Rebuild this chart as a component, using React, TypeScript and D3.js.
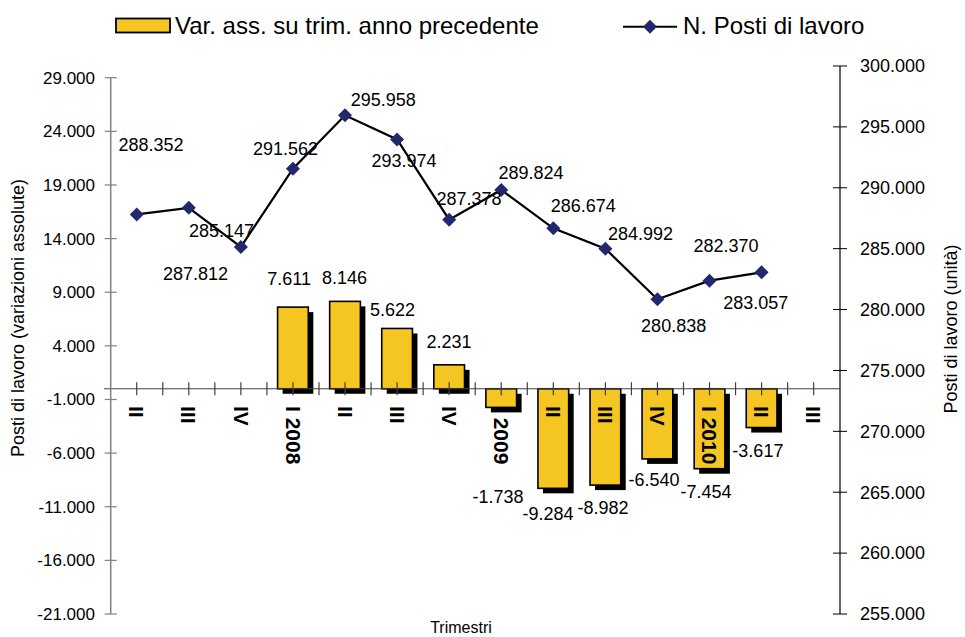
import React from "react";
import * as d3 from "d3";

const categories = ["II", "III", "IV", "I 2008", "II", "III", "IV", "I 2009", "II", "III", "IV", "I 2010", "II", "III"];
const barValues: (number | null)[] = [null, null, null, 7611, 8146, 5622, 2231, -1738, -9284, -8982, -6540, -7454, -3617, null];
const lineValues = [287812, 288352, 285147, 291562, 295958, 293974, 287378, 289824, 286674, 284992, 280838, 282370, 283057];
const leftTicks = [-21000, -16000, -11000, -6000, -1000, 4000, 9000, 14000, 19000, 24000, 29000];
const rightTicks = [255000, 260000, 265000, 270000, 275000, 280000, 285000, 290000, 295000, 300000];

const legendBar = "Var. ass. su trim. anno precedente";
const legendLine = "N. Posti di lavoro";
const leftTitle = "Posti di lavoro  (variazioni assolute)";
const rightTitle = "Posti di lavoro (unità)";
const xTitle = "Trimestri";

// label placement offsets (layout only)
const lineLabelOffsets: [number, number][] = [
  [58.8, 58.9], [-37.8, -63.5], [-19.4, -15.8], [-7.4, -20], [38.3, -15.2], [7, 21.6], [19.8, -21.4],
  [29.8, -17.2], [30, -22.3], [35.1, -15.5], [16.2, 26.3], [16.4, -34.7], [-5.9, 30.4],
];
const barLabelOffsets: [number, number][] = [
  [0, 0], [0, 0], [0, 0], [-3.9, -28], [-0.5, -23.3], [-4.5, -18.4], [-0.2, -23.1],
  [-3.2, 89.4], [-5.3, 25.7], [-2.4, 22.9], [-3.5, 21.1], [-3.6, 23], [-3.7, 23.5], [0, 0],
];

const locale = d3.formatLocale({ decimal: ",", thousands: ".", grouping: [3], currency: ["€", ""], minus: "-" });
const fmt = locale.format(",d");

const FONT = "'Liberation Sans', Arial, sans-serif";
const BAR_FILL = "#F5C521";
const MARKER = "#22286E";

export default function App() {
  const x0 = 110.7, x1 = 839.7;
  const x = d3.scaleBand<number>().domain(categories.map((_, i) => i)).range([x0, x1]).padding(0);
  const yL = d3.scaleLinear().domain([-21000, 29000]).range([614, 77.7]);
  const yR = d3.scaleLinear().domain([255000, 300000]).range([614, 66]);
  const bw = x.bandwidth();
  const barW = bw * 0.59;
  const cx = (i: number) => (x(i) as number) + bw / 2;
  const zeroY = yL(0);
  const sh = 5;

  const linePath = d3.line<number>().x((_, i) => cx(i)).y((d) => yR(d))(lineValues) || "";
  const diamond = (px: number, py: number, r: number) => `M${px},${py - r}L${px + r},${py}L${px},${py + r}L${px - r},${py}Z`;

  const xTicks: number[] = [];
  for (let i = 0; i < categories.length; i++) {
    xTicks.push(cx(i));
    if (i > 0) xTicks.push(x(i) as number);
  }

  return (
    <svg width={965} height={637} style={{ position: "absolute", left: 0, top: 0, background: "#fff" }} fontFamily={FONT}>
      {/* Legend */}
      <rect x={116} y={18.5} width={54} height={14} fill={BAR_FILL} stroke="#000" strokeWidth={1.8} />
      <text x={175} y={34} fontSize={24} fill="#000">{legendBar}</text>
      <line x1={623} x2={677} y1={26.7} y2={26.7} stroke="#000" strokeWidth={2} />
      <path d={diamond(650, 26.7, 7)} fill={MARKER} />
      <text x={683} y={34} fontSize={24} fill="#000">{legendLine}</text>

      {/* Bars with shadow */}
      {barValues.map((v, i) => {
        if (v === null) return null;
        const bx = cx(i) - barW / 2;
        const top = Math.min(yL(v), zeroY);
        const h = Math.abs(yL(v) - zeroY);
        return (
          <g key={"b" + i}>
            <rect x={bx + sh} y={top + sh} width={barW} height={h} fill="#000" />
            <rect x={bx} y={top} width={barW} height={h} fill={BAR_FILL} stroke="#000" strokeWidth={1.6} />
          </g>
        );
      })}

      {/* Category labels */}
      {categories.map((c, i) => {
        const hideFirst = i === 7;
        return (
          <text key={"c" + i} transform={`translate(${cx(i)},406) rotate(90)`} dy="0.35em" fontSize={21} fontWeight="bold" fill="#000">
            {hideFirst ? (
              <>
                <tspan fillOpacity={0}>{c.slice(0, 1)}</tspan>
                <tspan>{c.slice(1)}</tspan>
              </>
            ) : (
              c
            )}
          </text>
        );
      })}

      {/* X axis */}
      <line x1={104} x2={x1} y1={zeroY} y2={zeroY} stroke="#404040" strokeWidth={1.2} />
      {xTicks.map((t, i) => (
        <line key={"xt" + i} x1={t} x2={t} y1={zeroY - 6.5} y2={zeroY + 6.5} stroke="#404040" strokeWidth={1.2} />
      ))}

      {/* Left axis */}
      <line x1={x0} x2={x0} y1={yL(29000)} y2={yL(-21000)} stroke="#808080" strokeWidth={1.5} />
      {leftTicks.map((t) => (
        <g key={"lt" + t}>
          <line x1={x0 - 6} x2={x0 + 6} y1={yL(t)} y2={yL(t)} stroke="#808080" strokeWidth={1.2} />
          <text x={95} y={yL(t)} dy="0.35em" textAnchor="end" fontSize={17} fill="#000">{fmt(t)}</text>
        </g>
      ))}

      {/* Right axis */}
      <line x1={840} x2={840} y1={yR(300000)} y2={yR(255000)} stroke="#000" strokeWidth={1.2} />
      {rightTicks.map((t) => (
        <g key={"rt" + t}>
          <line x1={833} x2={847} y1={yR(t)} y2={yR(t)} stroke="#000" strokeWidth={1} />
          <text x={860} y={yR(t)} dy="0.35em" textAnchor="start" fontSize={18} fill="#000">{fmt(t)}</text>
        </g>
      ))}

      {/* Line series */}
      <path d={linePath} fill="none" stroke="#000" strokeWidth={2.2} />
      {lineValues.map((v, i) => (
        <path key={"m" + i} d={diamond(cx(i), yR(v), 7)} fill={MARKER} />
      ))}

      {/* Bar labels */}
      {barValues.map((v, i) => {
        if (v === null) return null;
        const [dx, dy] = barLabelOffsets[i];
        return (
          <text key={"bl" + i} x={cx(i) + dx} y={yL(v) + dy} dy="0.35em" textAnchor="middle" fontSize={18} fill="#000">{fmt(v)}</text>
        );
      })}

      {/* Line labels */}
      {lineValues.map((v, i) => {
        const [dx, dy] = lineLabelOffsets[i];
        return (
          <text key={"ll" + i} x={cx(i) + dx} y={yR(v) + dy} dy="0.35em" textAnchor="middle" fontSize={18} fill="#000">{fmt(v)}</text>
        );
      })}

      {/* Axis titles */}
      <text transform="translate(24,318) rotate(-90)" textAnchor="middle" fontSize={18} fill="#000">{leftTitle}</text>
      <text transform="translate(957,329) rotate(-90)" textAnchor="middle" fontSize={18} fill="#000">{rightTitle}</text>
      <text x={461} y={633} textAnchor="middle" fontSize={16} fill="#000">{xTitle}</text>
    </svg>
  );
}
